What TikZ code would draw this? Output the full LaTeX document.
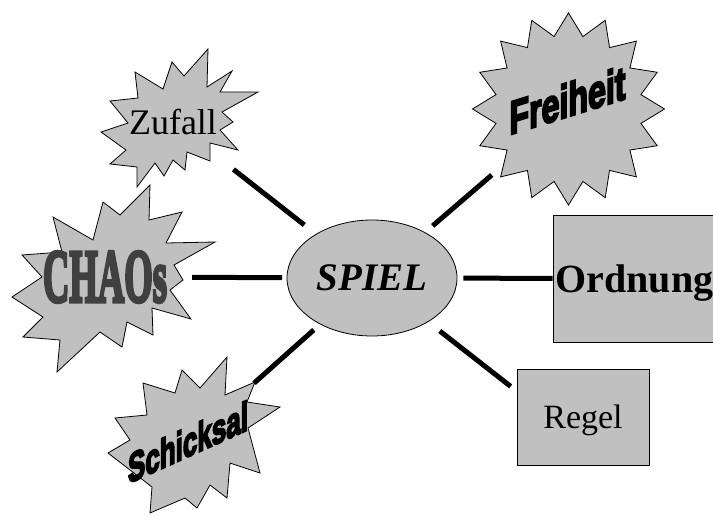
\documentclass[tikz,border=0pt]{standalone}
\usepackage{fontspec}
\setmainfont{Liberation Serif}
\setsansfont{Liberation Sans}
\newfontfamily\heavyfont[FakeBold=5]{Liberation Sans Bold}
\newfontfamily\heavyserif[FakeBold=5]{Liberation Serif Bold}
\usepackage{graphicx}
\usetikzlibrary{calc,shapes.geometric}
\definecolor{burstgray}{RGB}{192,192,192}
\tikzset{%
	burst/.style   = {draw, fill=burstgray, line width=0.8pt, line join=miter},
	box/.style     = {draw, fill=burstgray, line width=0.8pt, inner sep=0pt, text depth=0pt},
	link/.style    = {line width=5pt},
	wordart/.style = {inner sep=0pt, font=\heavyfont},
}

\begin{document}
\begin{tikzpicture}[x=1pt,y=-1pt]
	\useasboundingbox (0,0) rectangle (713,515);
	% bursts
	\draw[burst] (135,72) -- (163,89) -- (172,62) -- (184,76) -- (208,49) -- (207,87) -- (232,71) -- (220,92) -- (258,92) -- (222,112) -- (233,122) -- (220,130) -- (238,150) -- (210,143) -- (210,161) -- (187,152) -- (185,170) -- (173,160) -- (164,176) -- (155,163) -- (137,187) -- (137,167) -- (110,164) -- (126,150) -- (101,132) -- (128,123) -- (110,101) -- (138,98) -- cycle;
	\draw[burst] (150,185) -- (149,220) -- (182,212) -- (166,243) -- (215,242) -- (174,265) -- (183,280) -- (170,290) -- (191,319) -- (152,308) -- (153,335) -- (127,322) -- (122,347) -- (100,332) -- (57,372) -- (60,340) -- (23,337) -- (43,317) -- (12,297) -- (42,277) -- (22,255) -- (62,252) -- (53,217) -- (93,240) -- (103,202) -- (120,215) -- cycle;
	\draw[burst] (227,357) -- (225,395) -- (255,382) -- (247,402) -- (280,407) -- (248,428) -- (260,473) -- (230,463) -- (227,498) -- (210,485) -- (197,508) -- (185,498) -- (150,513) -- (152,487) -- (108,453) -- (130,440) -- (115,418) -- (147,415) -- (143,383) -- (175,393) -- (182,370) -- (200,388) -- cycle;
	\node[burst, star, star points=16, star point ratio=1.3, minimum size=192pt, inner sep=0pt] (freiheit) at (568.5,109) {};
	% words
	\node[inner sep=0pt] (zufall) at (173,122) {\fontsize{36}{36}\selectfont Zufall};
	\node[inner sep=0pt, text=black!75, font=\heavyserif] (chaos) at (105,277) {\resizebox{124pt}{50pt}{CHAOs}};
	\node[wordart, yslant=0.45] (schicksal) at (188,442) {\resizebox{120pt}{30pt}{Schicksal}};
	\node[wordart, yslant=0.31] at ($(freiheit)+(-1,-9)$) {\resizebox{116pt}{34pt}{Freiheit}};
	% centre and boxes
	\node[box, ellipse, minimum width=170pt, minimum height=116pt] (spiel) at (372,278) {\fontsize{39}{39}\selectfont\bfseries\itshape SPIEL};
	\node[box, minimum width=163pt, minimum height=127pt] (ordnung) at (634.5,278.5) {\fontsize{40}{40}\selectfont\bfseries Ordnung};
	\node[box, minimum width=132pt, minimum height=96pt] (regel) at (583,417) {\fontsize{34}{34}\selectfont Regel};
	% links
	\draw[link] ($(spiel)!86pt!(zufall)$) -- ($(spiel)!176pt!(zufall)$);
	\draw[link] ($(spiel)!90pt!(chaos)$) -- ($(spiel)!180pt!(chaos)$);
	\draw[link] ($(spiel)!78pt!(schicksal)$) -- ($(spiel)!158pt!(schicksal)$);
	\draw[link] ($(spiel)!80pt!(freiheit)$) -- ($(spiel)!158pt!(freiheit)$);
	\draw[link, shorten <=6pt] (spiel) -- (ordnung);
	\draw[link] ($(spiel)!86pt!($(regel.west)!0.5!(regel.center)$)$) -- ($(spiel)!176pt!($(regel.west)!0.5!(regel.center)$)$);
\end{tikzpicture}
\end{document}
